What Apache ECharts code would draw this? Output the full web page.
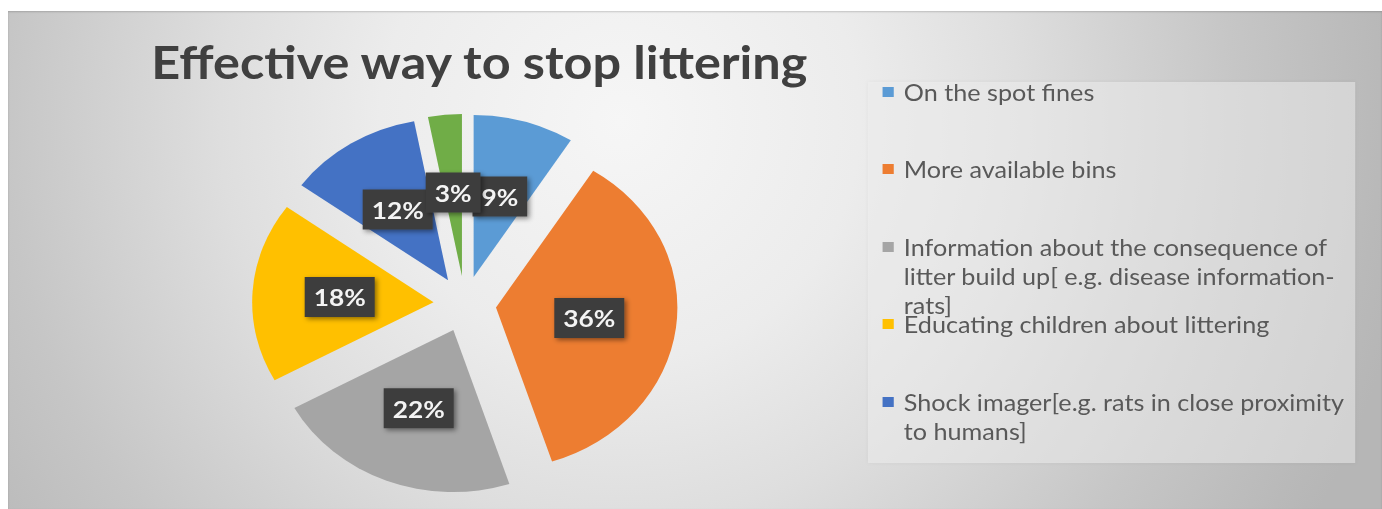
<!DOCTYPE html>
<html>
<head>
<meta charset="utf-8">
<title>Effective way to stop littering</title>
<script src="https://cdn.jsdelivr.net/npm/echarts@6/dist/echarts.min.js"></script>
<style>
  html, body { margin: 0; padding: 0; background: #ffffff; width: 1382px; height: 509px; overflow: hidden; }
  /* Chart area with a soft radial grey fill */
  #frame {
    position: absolute; left: 8px; top: 11px; width: 1374px; height: 498px; overflow: hidden;
    background: radial-gradient(circle 800px at 612px 110px,
      #f6f6f6 0%, #ececec 30%, #dedede 50%, #c6c6c6 77%, #b9b9b9 95%, #b6b6b6 100%);
    box-shadow: inset 0 1px 2px rgba(0,0,0,0.18);
  }
  /* The drawing is laid out narrower and widened horizontally */
  #chart { width: 1227px; height: 498px; transform: scaleX(1.1198); transform-origin: 0 0; }
</style>
</head>
<body>
<div id="frame"><div id="chart"></div></div>
<script>
// Survey answers and their share of responses (%)
const categories = [
  'On the spot fines',
  'More available bins',
  'Information about the consequence of litter build up[ e.g. disease information-rats]',
  'Educating children about littering',
  'Shock imager[e.g. rats in close proximity to humans]',
  'Other'
];
const shares = [9, 36, 22, 18, 12, 3];
const sliceColors = ['#5B9BD5', '#ED7D31', '#A5A5A5', '#FFC000', '#4472C4', '#70AD47'];

// Legend wording, wrapped the way it is printed
const legendLabels = [
  'On the spot fines',
  'More available bins',
  'Information about the consequence of\nlitter build up[ e.g. disease information-\nrats]',
  'Educating children about littering',
  'Shock imager[e.g. rats in close proximity\nto humans]'
];

const chart = echarts.init(document.getElementById('chart'), null, { renderer: 'svg' });

// Layout constants for the legend column
const LEGEND_LEFT = 781;
const LEGEND_ROWS = [81, 158, 236, 313, 391];
const LINE_H = 29;

// The marker sits on the first line of a wrapped entry: blank lines are
// placed above so the centred text block puts line one level with the marker.
const legends = legendLabels.map((label, i) => {
  const lines = label.split('\n').length;
  const shown = '\u00a0\n'.repeat(lines - 1) + label;
  return {
    data: [categories[i]],
    orient: 'vertical',
    left: LEGEND_LEFT,
    top: LEGEND_ROWS[i] - (2 * lines - 1) * LINE_H / 2,
    padding: 0,
    icon: 'rect',
    itemWidth: 10,
    itemHeight: 10,
    selectedMode: false,
    formatter: () => shown,
    textStyle: {
      fontFamily: 'Lato',
      fontSize: 22.5,
      color: '#595959',
      lineHeight: LINE_H,
      padding: [0, 0, 0, 4]
    }
  };
});

chart.setOption({
  animation: false,
  backgroundColor: 'transparent',
  title: {
    text: 'Effective way to stop littering',
    left: 128,
    top: 28,
    padding: 0,
    textStyle: { fontFamily: 'Lato', fontWeight: 'bold', fontSize: 45, color: '#404040' }
  },
  graphic: [{
    type: 'rect',
    z: -1,
    shape: { x: 768, y: 71, width: 435, height: 381 },
    style: { fill: 'rgba(240,240,240,0.5)', shadowBlur: 4, shadowColor: 'rgba(0,0,0,0.08)' }
  }],
  legend: legends,
  series: [{
    type: 'pie',
    center: [408, 293],
    radius: 162,
    startAngle: 90,
    clockwise: true,
    avoidLabelOverlap: false,
    selectedMode: 'multiple',
    selectedOffset: 28,
    emphasis: { scale: false },
    labelLine: { show: false },
    labelLayout: { hideOverlap: false },
    label: {
      show: true,
      position: 'inside',
      formatter: '{d}%',
      fontFamily: 'Lato',
      fontWeight: 'bold',
      fontSize: 23.5,
      color: '#f4f4f4',
      backgroundColor: '#3d3d3d',
      padding: [8, 8, 8, 8],
      shadowColor: 'rgba(0,0,0,0.45)',
      shadowBlur: 5,
      shadowOffsetX: 2,
      shadowOffsetY: 2
    },
    data: categories.map((name, i) => ({
      name: name,
      value: shares[i],
      selected: true,
      itemStyle: { color: sliceColors[i] }
    }))
  }]
});
</script>
</body>
</html>
